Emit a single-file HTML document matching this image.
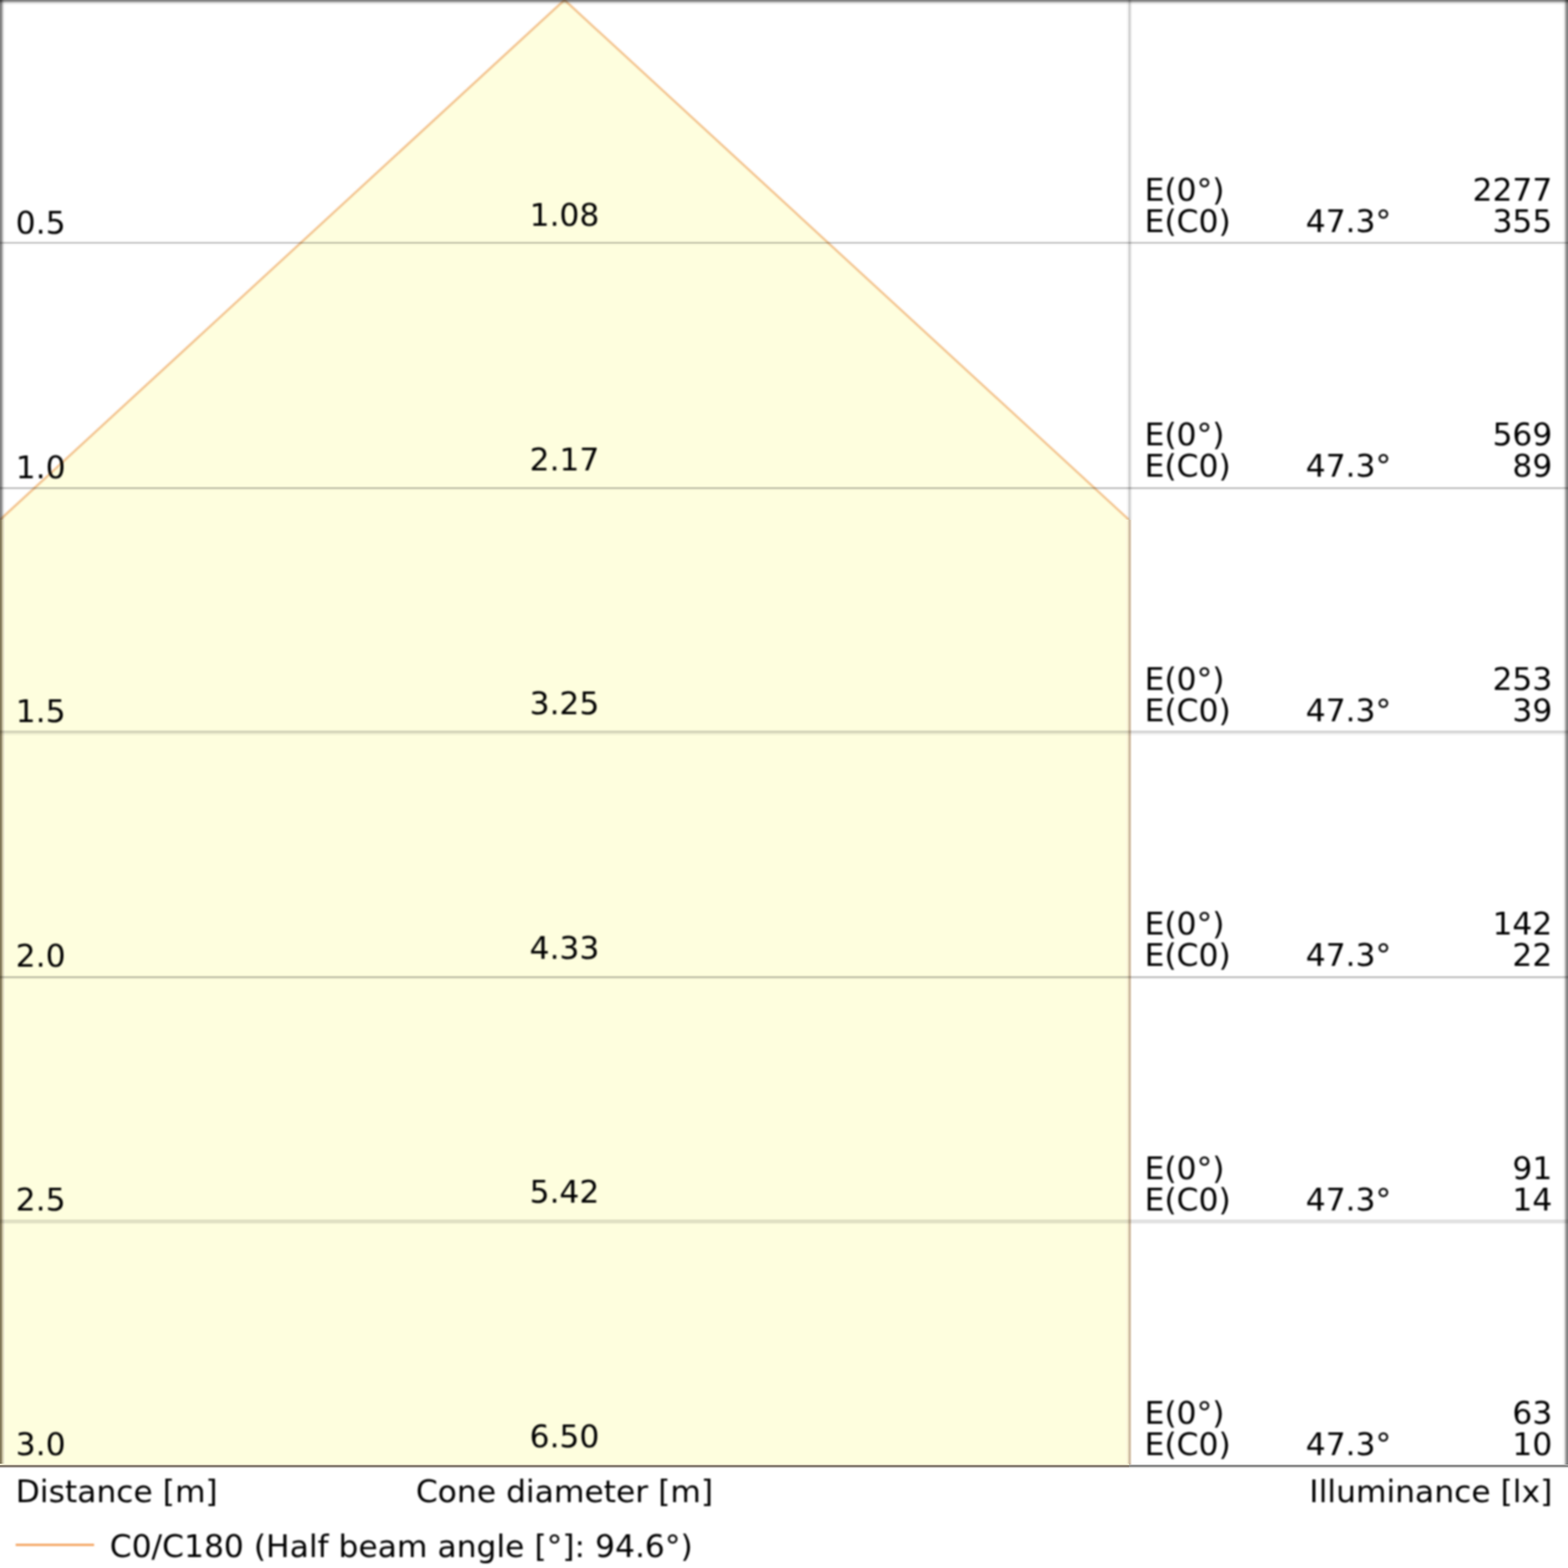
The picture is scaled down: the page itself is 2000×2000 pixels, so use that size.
<!DOCTYPE html>
<html><head><meta charset="utf-8"><title>Cone diagram</title>
<style>
html,body{margin:0;padding:0;background:#fff;overflow:hidden;width:2000px;height:2000px;}
svg{position:absolute;left:0;top:0;display:block;}
.t{filter:blur(1.0px);}
.c{filter:blur(1.0px);}
text{font-family:"DejaVu Sans", "Liberation Sans", sans-serif;font-size:40px;fill:#000;}
</style></head><body>
<svg xmlns="http://www.w3.org/2000/svg" width="2000" height="2000" viewBox="0 0 2000 2000" shape-rendering="crispEdges">
<rect x="0" y="0" width="2000" height="2000" fill="#fff"/>
<g class="c" shape-rendering="geometricPrecision">
<polygon points="720,0 -4,666.68 -4,1872 1440,1872 1440,663 " fill="#fefede"/>
<polyline points="-6,668.52 720,0 1440,663" fill="none" stroke="rgb(243,195,142)" stroke-width="2.8" stroke-linejoin="miter" stroke-miterlimit="10"/>
<rect x="20" y="1969.05" width="100" height="2.9" fill="#f4a460"/>
</g>
<rect x="0" y="663" width="1" height="1205" fill="rgb(128, 118, 85)"/>
<rect x="1" y="663" width="1" height="1205" fill="rgb(140, 130, 100)"/>
<rect x="2" y="663" width="1" height="1205" fill="rgb(172, 164, 134)"/>
<rect x="3" y="663" width="1" height="1205" fill="rgb(205, 198, 168)"/>
<rect x="4" y="663" width="1" height="1205" fill="rgb(226, 222, 195)"/>
<rect x="5" y="663" width="1" height="1205" fill="rgb(240, 238, 215)"/>
<rect x="6" y="663" width="1" height="1205" fill="rgb(252, 252, 222)"/>
<rect x="0" y="0" width="1" height="663" fill="#000" fill-opacity="0.498"/>
<rect x="1" y="0" width="1" height="663" fill="#000" fill-opacity="0.455"/>
<rect x="2" y="0" width="1" height="663" fill="#000" fill-opacity="0.353"/>
<rect x="3" y="0" width="1" height="663" fill="#000" fill-opacity="0.227"/>
<rect x="4" y="0" width="1" height="663" fill="#000" fill-opacity="0.122"/>
<rect x="5" y="0" width="1" height="663" fill="#000" fill-opacity="0.047"/>
<rect x="6" y="0" width="1" height="663" fill="#000" fill-opacity="0.016"/>
<rect x="7" y="0" width="1" height="663" fill="#000" fill-opacity="0.004"/>
<rect x="1436" y="0" width="1" height="663" fill="#000" fill-opacity="0.012"/>
<rect x="1437" y="0" width="1" height="663" fill="#000" fill-opacity="0.027"/>
<rect x="1438" y="0" width="1" height="663" fill="#000" fill-opacity="0.059"/>
<rect x="1439" y="0" width="1" height="663" fill="#000" fill-opacity="0.122"/>
<rect x="1440" y="0" width="1" height="663" fill="#000" fill-opacity="0.169"/>
<rect x="1441" y="0" width="1" height="663" fill="#000" fill-opacity="0.145"/>
<rect x="1442" y="0" width="1" height="663" fill="#000" fill-opacity="0.098"/>
<rect x="1443" y="0" width="1" height="663" fill="#000" fill-opacity="0.039"/>
<rect x="1444" y="0" width="1" height="663" fill="#000" fill-opacity="0.012"/>
<rect x="1435" y="663" width="1" height="1205" fill="rgb(253, 252, 225)"/>
<rect x="1436" y="663" width="1" height="1205" fill="rgb(253, 250, 222)"/>
<rect x="1437" y="663" width="1" height="1205" fill="rgb(250, 245, 215)"/>
<rect x="1438" y="663" width="1" height="1205" fill="rgb(240, 232, 205)"/>
<rect x="1439" y="663" width="1" height="1205" fill="rgb(222, 212, 180)"/>
<rect x="1440" y="663" width="1" height="1205" fill="rgb(208, 190, 165)"/>
<rect x="1441" y="663" width="1" height="1205" fill="rgb(213, 196, 175)"/>
<rect x="1442" y="663" width="1" height="1205" fill="rgb(232, 220, 205)"/>
<rect x="1443" y="663" width="1" height="1205" fill="rgb(248, 245, 240)"/>
<rect x="1999" y="0" width="1" height="1868" fill="#000" fill-opacity="0.498"/>
<rect x="1998" y="0" width="1" height="1868" fill="#000" fill-opacity="0.451"/>
<rect x="1997" y="0" width="1" height="1868" fill="#000" fill-opacity="0.373"/>
<rect x="1996" y="0" width="1" height="1868" fill="#000" fill-opacity="0.247"/>
<rect x="1995" y="0" width="1" height="1868" fill="#000" fill-opacity="0.133"/>
<rect x="1994" y="0" width="1" height="1868" fill="#000" fill-opacity="0.051"/>
<rect x="1993" y="0" width="1" height="1868" fill="#000" fill-opacity="0.020"/>
<rect x="1992" y="0" width="1" height="1868" fill="#000" fill-opacity="0.008"/>
<rect x="0" y="1867" width="1440" height="1" fill="rgb(245, 245, 220)"/>
<rect x="0" y="1868" width="1440" height="1" fill="rgb(215, 205, 180)"/>
<rect x="0" y="1869" width="1440" height="1" fill="rgb(120, 112, 98)"/>
<rect x="0" y="1870" width="1440" height="1" fill="rgb(130, 122, 112)"/>
<rect x="0" y="1871" width="1440" height="1" fill="rgb(185, 178, 175)"/>
<rect x="0" y="1872" width="1440" height="1" fill="rgb(240, 238, 236)"/>
<rect x="0" y="1873" width="1440" height="1" fill="rgb(253, 253, 253)"/>
<rect x="1440" y="1866" width="560" height="1" fill="#000" fill-opacity="0.008"/>
<rect x="1440" y="1867" width="560" height="1" fill="#000" fill-opacity="0.043"/>
<rect x="1440" y="1868" width="560" height="1" fill="#000" fill-opacity="0.263"/>
<rect x="1440" y="1869" width="560" height="1" fill="#000" fill-opacity="0.514"/>
<rect x="1440" y="1870" width="560" height="1" fill="#000" fill-opacity="0.443"/>
<rect x="1440" y="1871" width="560" height="1" fill="#000" fill-opacity="0.216"/>
<rect x="1440" y="1872" width="560" height="1" fill="#000" fill-opacity="0.059"/>
<rect x="1440" y="1873" width="560" height="1" fill="#000" fill-opacity="0.008"/>
<rect x="0" y="306" width="2000" height="1" fill="#000" fill-opacity="0.008"/>
<rect x="0" y="307" width="2000" height="1" fill="#000" fill-opacity="0.027"/>
<rect x="0" y="308" width="2000" height="1" fill="#000" fill-opacity="0.106"/>
<rect x="0" y="309" width="2000" height="1" fill="#000" fill-opacity="0.173"/>
<rect x="0" y="310" width="2000" height="1" fill="#000" fill-opacity="0.153"/>
<rect x="0" y="311" width="2000" height="1" fill="#000" fill-opacity="0.051"/>
<rect x="0" y="312" width="2000" height="1" fill="#000" fill-opacity="0.016"/>
<rect x="0" y="313" width="2000" height="1" fill="#000" fill-opacity="0.004"/>
<rect x="0" y="620" width="2000" height="1" fill="#000" fill-opacity="0.035"/>
<rect x="0" y="621" width="2000" height="1" fill="#000" fill-opacity="0.137"/>
<rect x="0" y="622" width="2000" height="1" fill="#000" fill-opacity="0.180"/>
<rect x="0" y="623" width="2000" height="1" fill="#000" fill-opacity="0.153"/>
<rect x="0" y="624" width="2000" height="1" fill="#000" fill-opacity="0.059"/>
<rect x="0" y="625" width="2000" height="1" fill="#000" fill-opacity="0.016"/>
<rect x="0" y="930" width="2000" height="1" fill="#000" fill-opacity="0.012"/>
<rect x="0" y="931" width="2000" height="1" fill="#000" fill-opacity="0.059"/>
<rect x="0" y="932" width="2000" height="1" fill="#000" fill-opacity="0.129"/>
<rect x="0" y="933" width="2000" height="1" fill="#000" fill-opacity="0.153"/>
<rect x="0" y="934" width="2000" height="1" fill="#000" fill-opacity="0.137"/>
<rect x="0" y="935" width="2000" height="1" fill="#000" fill-opacity="0.090"/>
<rect x="0" y="936" width="2000" height="1" fill="#000" fill-opacity="0.051"/>
<rect x="0" y="937" width="2000" height="1" fill="#000" fill-opacity="0.027"/>
<rect x="0" y="938" width="2000" height="1" fill="#000" fill-opacity="0.012"/>
<rect x="0" y="1243" width="2000" height="1" fill="#000" fill-opacity="0.012"/>
<rect x="0" y="1244" width="2000" height="1" fill="#000" fill-opacity="0.059"/>
<rect x="0" y="1245" width="2000" height="1" fill="#000" fill-opacity="0.161"/>
<rect x="0" y="1246" width="2000" height="1" fill="#000" fill-opacity="0.184"/>
<rect x="0" y="1247" width="2000" height="1" fill="#000" fill-opacity="0.145"/>
<rect x="0" y="1248" width="2000" height="1" fill="#000" fill-opacity="0.051"/>
<rect x="0" y="1249" width="2000" height="1" fill="#000" fill-opacity="0.016"/>
<rect x="0" y="1554" width="2000" height="1" fill="#000" fill-opacity="0.016"/>
<rect x="0" y="1555" width="2000" height="1" fill="#000" fill-opacity="0.059"/>
<rect x="0" y="1556" width="2000" height="1" fill="#000" fill-opacity="0.106"/>
<rect x="0" y="1557" width="2000" height="1" fill="#000" fill-opacity="0.118"/>
<rect x="0" y="1558" width="2000" height="1" fill="#000" fill-opacity="0.114"/>
<rect x="0" y="1559" width="2000" height="1" fill="#000" fill-opacity="0.098"/>
<rect x="0" y="1560" width="2000" height="1" fill="#000" fill-opacity="0.051"/>
<rect x="0" y="1561" width="2000" height="1" fill="#000" fill-opacity="0.024"/>
<rect x="0" y="0" width="2000" height="1" fill="#000" fill-opacity="0.490"/>
<rect x="0" y="1" width="2000" height="1" fill="#000" fill-opacity="0.412"/>
<rect x="0" y="2" width="2000" height="1" fill="#000" fill-opacity="0.298"/>
<rect x="0" y="3" width="2000" height="1" fill="#000" fill-opacity="0.173"/>
<rect x="0" y="4" width="2000" height="1" fill="#000" fill-opacity="0.086"/>
<rect x="0" y="5" width="2000" height="1" fill="#000" fill-opacity="0.039"/>
<rect x="0" y="6" width="2000" height="1" fill="#000" fill-opacity="0.012"/>
<g class="t" shape-rendering="geometricPrecision">
<text x="20" y="0" transform="translate(0 298.10) scale(1 0.966)">0.5</text>
<text x="720" y="0" text-anchor="middle" transform="translate(0 287.94) scale(1 0.966)">1.08</text>
<text x="1460" y="0" transform="translate(0 256.20) scale(1 0.966)">E(0°)</text>
<text x="1460" y="0" transform="translate(0 295.94) scale(1 0.966)">E(C0)</text>
<text x="1720" y="0" text-anchor="middle" transform="translate(0 295.94) scale(1 0.966)">47.3°</text>
<text x="1980" y="0" text-anchor="end" transform="translate(0 256.20) scale(1 0.966)">2277</text>
<text x="1980" y="0" text-anchor="end" transform="translate(0 295.94) scale(1 0.966)">355</text>
<text x="20" y="0" transform="translate(0 609.68) scale(1 0.966)">1.0</text>
<text x="720" y="0" text-anchor="middle" transform="translate(0 599.55) scale(1 0.966)">2.17</text>
<text x="1460" y="0" transform="translate(0 568.18) scale(1 0.966)">E(0°)</text>
<text x="1460" y="0" transform="translate(0 607.96) scale(1 0.966)">E(C0)</text>
<text x="1720" y="0" text-anchor="middle" transform="translate(0 607.96) scale(1 0.966)">47.3°</text>
<text x="1980" y="0" text-anchor="end" transform="translate(0 568.18) scale(1 0.966)">569</text>
<text x="1980" y="0" text-anchor="end" transform="translate(0 607.96) scale(1 0.966)">89</text>
<text x="20" y="0" transform="translate(0 921.26) scale(1 0.966)">1.5</text>
<text x="720" y="0" text-anchor="middle" transform="translate(0 911.16) scale(1 0.966)">3.25</text>
<text x="1460" y="0" transform="translate(0 880.16) scale(1 0.966)">E(0°)</text>
<text x="1460" y="0" transform="translate(0 919.98) scale(1 0.966)">E(C0)</text>
<text x="1720" y="0" text-anchor="middle" transform="translate(0 919.98) scale(1 0.966)">47.3°</text>
<text x="1980" y="0" text-anchor="end" transform="translate(0 880.16) scale(1 0.966)">253</text>
<text x="1980" y="0" text-anchor="end" transform="translate(0 919.98) scale(1 0.966)">39</text>
<text x="20" y="0" transform="translate(0 1232.84) scale(1 0.966)">2.0</text>
<text x="720" y="0" text-anchor="middle" transform="translate(0 1222.77) scale(1 0.966)">4.33</text>
<text x="1460" y="0" transform="translate(0 1192.14) scale(1 0.966)">E(0°)</text>
<text x="1460" y="0" transform="translate(0 1232.00) scale(1 0.966)">E(C0)</text>
<text x="1720" y="0" text-anchor="middle" transform="translate(0 1232.00) scale(1 0.966)">47.3°</text>
<text x="1980" y="0" text-anchor="end" transform="translate(0 1192.14) scale(1 0.966)">142</text>
<text x="1980" y="0" text-anchor="end" transform="translate(0 1232.00) scale(1 0.966)">22</text>
<text x="20" y="0" transform="translate(0 1544.42) scale(1 0.966)">2.5</text>
<text x="720" y="0" text-anchor="middle" transform="translate(0 1534.38) scale(1 0.966)">5.42</text>
<text x="1460" y="0" transform="translate(0 1504.12) scale(1 0.966)">E(0°)</text>
<text x="1460" y="0" transform="translate(0 1544.02) scale(1 0.966)">E(C0)</text>
<text x="1720" y="0" text-anchor="middle" transform="translate(0 1544.02) scale(1 0.966)">47.3°</text>
<text x="1980" y="0" text-anchor="end" transform="translate(0 1504.12) scale(1 0.966)">91</text>
<text x="1980" y="0" text-anchor="end" transform="translate(0 1544.02) scale(1 0.966)">14</text>
<text x="20" y="0" transform="translate(0 1856.00) scale(1 0.966)">3.0</text>
<text x="720" y="0" text-anchor="middle" transform="translate(0 1845.99) scale(1 0.966)">6.50</text>
<text x="1460" y="0" transform="translate(0 1816.10) scale(1 0.966)">E(0°)</text>
<text x="1460" y="0" transform="translate(0 1856.04) scale(1 0.966)">E(C0)</text>
<text x="1720" y="0" text-anchor="middle" transform="translate(0 1856.04) scale(1 0.966)">47.3°</text>
<text x="1980" y="0" text-anchor="end" transform="translate(0 1816.10) scale(1 0.966)">63</text>
<text x="1980" y="0" text-anchor="end" transform="translate(0 1856.04) scale(1 0.966)">10</text>
<text x="20" y="0" transform="translate(0 1916.00) scale(1 0.966)">Distance [m]</text>
<text x="720" y="0" text-anchor="middle" transform="translate(0 1916.00) scale(1 0.966)">Cone diameter [m]</text>
<text x="1980" y="0" text-anchor="end" transform="translate(0 1916.00) scale(1 0.966)">Illuminance [lx]</text>
<text x="140" y="0" transform="translate(0 1986.00) scale(1 0.966)">C0/C180 (Half beam angle [°]: 94.6°)</text>
</g>
</svg>
</body></html>
